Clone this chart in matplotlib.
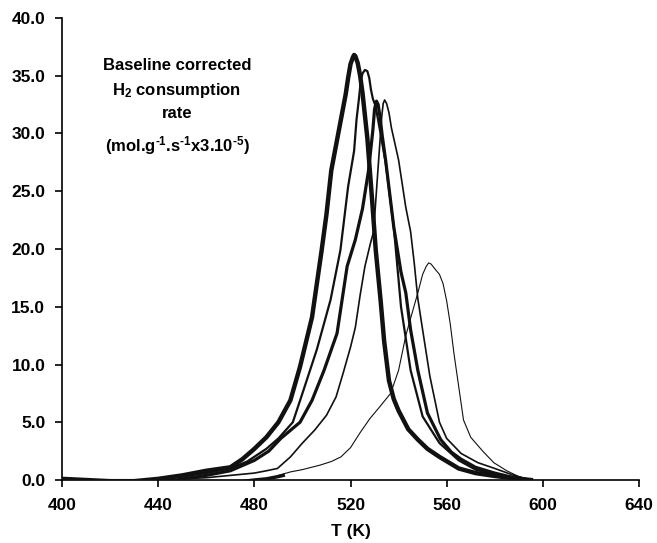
import matplotlib
matplotlib.use("Agg")
import matplotlib.pyplot as plt
from matplotlib.ticker import MultipleLocator, FormatStrFormatter

plt.rcParams['font.family'] = ['Liberation Sans', 'DejaVu Sans']
plt.rcParams['font.weight'] = 'bold'
plt.rcParams['mathtext.fontset'] = 'custom'
plt.rcParams['mathtext.rm'] = 'Liberation Sans:bold'
plt.rcParams['mathtext.it'] = 'Liberation Sans:bold'
plt.rcParams['mathtext.bf'] = 'Liberation Sans:bold'

# Curve A (thickest)
t_a = [400, 410, 420, 430, 440, 450, 460, 470, 475, 480, 485, 490, 495, 499, 504, 508, 510, 512,
       514, 516, 518, 519, 520, 521, 521.5, 522, 523, 524, 525, 527, 529, 530.5, 532.5, 534, 536,
       538, 540, 544, 548, 552, 557, 565, 572, 580, 588, 595]
y_a = [0.1, 0.0, -0.1, -0.1, 0.1, 0.4, 0.8, 1.1, 1.8, 2.7, 3.7, 5.0, 6.9, 9.8, 14.1, 19.9, 23.0, 26.8,
       29.0, 31.2, 33.4, 34.8, 36.0, 36.6, 36.8, 36.7, 36.1, 35.0, 33.5, 29.6, 24.2, 19.9, 15.6, 12.0,
       8.6, 7.0, 6.0, 4.4, 3.5, 2.7, 2.0, 1.0, 0.6, 0.35, 0.15, 0.0]

# Curve B (medium)
t_b = [400, 420, 440, 450, 460, 470, 477, 485, 490, 496, 500, 506, 511.7, 515.8, 519, 521.5, 522.5,
       523.5, 524.3, 525, 526, 527, 527.8, 528.5, 529.3, 530.4, 532.5, 534.6, 538, 541, 545, 550, 557,
       565, 572, 580, 588, 595]
y_b = [0.0, -0.1, 0.0, 0.3, 0.6, 1.0, 1.6, 2.7, 3.6, 5.0, 7.5, 11.3, 15.6, 19.9, 25.4, 28.5, 31.2,
       33.0, 34.6, 35.2, 35.5, 35.4, 34.8, 33.8, 33.0, 32.4, 30.0, 27.5, 21.9, 15.0, 9.5, 5.5, 3.2,
       1.7, 0.9, 0.45, 0.15, 0.0]

# Curve C (thick)
t_c = [400, 420, 437, 441, 445, 450, 460, 470, 480, 486, 491, 499, 504, 509, 514.4, 518.6, 522, 525,
       527.5, 529.3, 530, 530.8, 531.5, 532.3, 533.2, 534.6, 538, 541, 543, 545, 548, 552, 557.5, 562,
       566, 572, 580, 588, 595]
y_c = [0.0, -0.1, -0.3, -0.3, -0.2, 0.1, 0.4, 0.8, 1.7, 2.5, 3.6, 5.0, 6.9, 9.5, 12.7, 18.5, 20.8, 23.5,
       26.8, 30.3, 32.1, 32.8, 32.5, 31.4, 29.8, 27.7, 21.9, 18.0, 16.2, 13.0, 9.5, 5.8, 3.5, 2.4,
       1.8, 1.1, 0.6, 0.2, 0.0]

# Curve D (thin)
t_d = [400, 420, 440, 460, 470, 480, 485, 489.6, 495, 500, 505, 510, 514, 517, 520, 522, 524, 526,
       528.3, 529.6, 531.7, 533, 533.6, 534.2, 535, 536, 537, 540, 543, 545, 546.5, 548, 550, 553, 557,
       560, 566, 573, 580, 588, 595]
y_d = [0.0, -0.1, 0.0, 0.2, 0.4, 0.6, 0.8, 1.0, 2.0, 3.2, 4.3, 5.6, 7.2, 9.3, 11.5, 13.2, 16.0, 18.5,
       20.5, 21.5, 27.7, 31.5, 32.6, 32.9, 32.6, 31.8, 30.5, 27.7, 23.6, 21.5, 18.8, 15.7, 13.0, 9.0,
       5.0, 3.6, 2.3, 1.5, 1.0, 0.4, 0.0]

# Curve E (thinnest)
t_e = [490, 495, 500, 507.5, 512, 516, 520, 524, 528, 532, 536.7, 540, 543, 545, 548, 550, 551.5,
       552.5, 553.5, 555, 557, 558.5, 560, 561.5, 563, 567, 570, 575, 579.6, 585, 590, 595]
y_e = [0.4, 0.7, 0.9, 1.3, 1.6, 2.0, 2.8, 4.1, 5.3, 6.3, 7.5, 9.5, 12.5, 14.0, 16.2, 17.8, 18.5,
       18.8, 18.7, 18.3, 17.8, 17.0, 15.5, 13.5, 11.0, 5.2, 3.7, 2.5, 1.5, 0.8, 0.3, 0.0]

# Short thick segment near the baseline
t_f = [476, 480, 485, 490, 492]
y_f = [-0.1, 0.0, 0.1, 0.3, 0.4]

x_ticks = [400, 440, 480, 520, 560, 600, 640]

fig = plt.figure(figsize=(6.57, 5.43), dpi=100)
ax = fig.add_axes([0.0944, 0.116, 0.8782, 0.8509])

col = '#111111'
ax.plot(t_e, y_e, color=col, lw=0.8, zorder=2)
ax.plot(t_d, y_d, color=col, lw=1.2, zorder=3)
ax.plot(t_b, y_b, color=col, lw=1.6, zorder=3)
ax.plot(t_c, y_c, color=col, lw=2.3, zorder=4)
ax.plot(t_a, y_a, color=col, lw=3.2, zorder=5)
ax.plot(t_f, y_f, color=col, lw=2.5, zorder=4)

ax.set_xlim(400, 640)
ax.set_ylim(0, 40)
ax.set_xticks(x_ticks)
ax.yaxis.set_major_locator(MultipleLocator(5))
ax.yaxis.set_major_formatter(FormatStrFormatter('%.1f'))
for s in ['top', 'right']:
    ax.spines[s].set_visible(False)
for s in ['left', 'bottom']:
    ax.spines[s].set_linewidth(1.2)
    ax.spines[s].set_color('black')
ax.tick_params(direction='out', length=5, width=1.2, labelsize=12.5)
ax.tick_params(axis='x', pad=8)
ax.tick_params(axis='y', pad=7)
for lab in ax.get_xticklabels() + ax.get_yticklabels():
    lab.set_fontweight('bold')
ax.set_xlabel('T (K)', fontsize=12.5, fontweight='bold', labelpad=8)

fs = 12
tx = 177 / 657
fig.text(tx, 1 - 66 / 543, 'Baseline corrected', ha='center', va='center', fontsize=fs, fontweight='bold')
fig.text(tx, 1 - 90 / 543, r'H$_{2}$ consumption', ha='center', va='center', fontsize=fs, fontweight='bold')
fig.text(tx, 1 - 113 / 543, 'rate', ha='center', va='center', fontsize=fs, fontweight='bold')
fig.text(tx, 1 - 146 / 543, r'(mol.g$^{\text{-1}}$.s$^{\text{-1}}$x3.10$^{\text{-5}}$)', ha='center', va='center',
         fontsize=fs, fontweight='bold')

fig.savefig('out.png', dpi=100)
